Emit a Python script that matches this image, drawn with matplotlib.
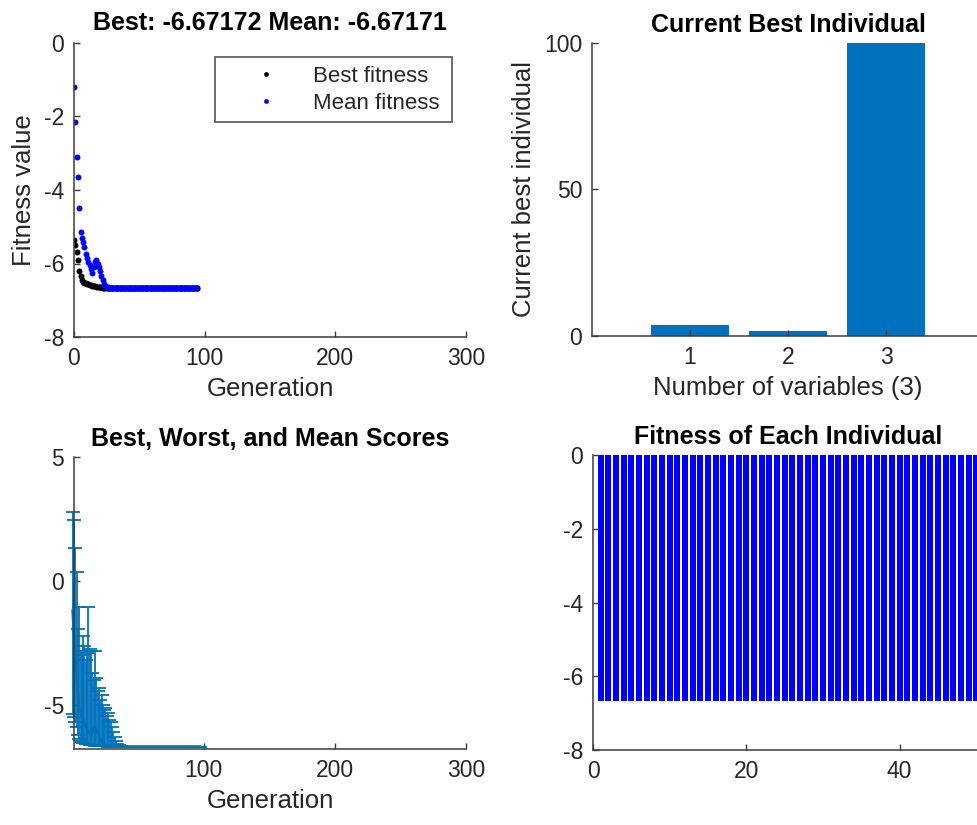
import matplotlib
matplotlib.use('Agg')
import matplotlib.pyplot as plt
import numpy as np

plt.rcParams['font.family'] = ['Liberation Sans', 'DejaVu Sans']
plt.rcParams['axes.unicode_minus'] = False

# ---------------- data ----------------
# Top-left: best / mean fitness per generation (0..94)
best_fitness = ([-5.36, -5.50, -5.70, -5.90, -6.20, -6.35, -6.45, -6.50, -6.52, -6.54,
                 -6.56, -6.57, -6.58, -6.59, -6.60, -6.61, -6.62, -6.63, -6.635, -6.64,
                 -6.645, -6.65, -6.655, -6.66, -6.663, -6.666, -6.668, -6.670, -6.671]
                + [-6.67172] * 66)
mean_fitness = ([-1.19, -2.16, -3.11, -3.64, -4.50, -5.15, -5.30, -5.41, -5.54, -5.75,
                 -5.85, -5.95, -6.05, -6.15, -6.25, -6.10, -5.95, -5.90, -6.00, -6.10,
                 -6.20, -6.35, -6.45, -6.55, -6.60, -6.63, -6.65, -6.66, -6.667, -6.670,
                 -6.671] + [-6.67171] * 64)
gen_tl = list(range(len(best_fitness)))

# Top-right: current best individual
var_index = [1, 2, 3]
best_individual = [3.75, 1.85, 100.0]

# Bottom-left: best / worst / mean scores per generation (0..97)
range_best = ([-5.36, -5.50, -5.70, -5.90, -6.20, -6.35, -6.45, -6.50, -6.52, -6.54,
               -6.56, -6.57, -6.58, -6.59, -6.60, -6.61, -6.62, -6.63, -6.635, -6.64,
               -6.645, -6.65, -6.655, -6.66, -6.663, -6.666, -6.668, -6.670, -6.671]
              + [-6.67172] * 69)
range_mean = ([-1.19, -2.16, -3.11, -3.64, -4.50, -5.15, -5.30, -5.41, -5.54, -5.75,
               -5.85, -5.95, -6.05, -6.15, -6.25, -6.10, -5.95, -5.90, -6.00, -6.10,
               -6.20, -6.35, -6.45, -6.55, -6.60, -6.63, -6.65, -6.66, -6.667, -6.670,
               -6.671] + [-6.67171] * 67)
range_worst = ([2.80, 2.45, 1.35, 0.35, -1.95, -1.05, -2.80, -3.00, -2.20, -2.60,
                -3.20, -2.90, -1.05, -2.75, -2.80, -3.70, -4.00, -2.80, -3.90, -4.45,
                -4.30, -4.80, -4.60, -5.00, -5.20, -5.10, -5.45, -5.30, -5.60, -5.70,
                -5.90, -6.10, -6.30, -6.45, -6.55, -6.62, -6.65, -6.66, -6.67]
               + [-6.67171] * 59)
gen_bl = list(range(len(range_mean)))

# Bottom-right: fitness of each individual (population 50)
individual = list(range(1, 51))
individual_fitness = [-6.67172] * 50

# ---------------- style ----------------
AX_COL = '#3c3c3c'
TXT_COL = '#262626'
TICK_FS = 16.5
LAB_FS = 18.5
TIT_FS = 18
W, H = 977, 825

fig = plt.figure(figsize=(W / 100, H / 100), dpi=100)


def make_ax(l, t, r, b):
    ax = fig.add_axes([l / W, 1 - b / H, (r - l) / W, (b - t) / H])
    for s in ['top', 'right']:
        ax.spines[s].set_visible(False)
    for s in ['left', 'bottom']:
        ax.spines[s].set_color(AX_COL)
        ax.spines[s].set_linewidth(1.1)
    ax.tick_params(direction='in', length=4, width=1.0, color=AX_COL,
                   labelsize=TICK_FS, labelcolor=TXT_COL, pad=7)
    return ax


# Top-left
ax1 = make_ax(74, 43, 466, 337)
ax1.plot(gen_tl, best_fitness, linestyle='none', marker='o', markersize=4.3,
         color='black', markeredgewidth=0, label='Best fitness')
ax1.plot(gen_tl, mean_fitness, linestyle='none', marker='o', markersize=4.3,
         color='#0000FF', markeredgewidth=0, label='Mean fitness')
ax1.set_xlim(0, 300)
ax1.set_ylim(-8, 0)
ax1.set_xticks([0, 100, 200, 300])
ax1.set_yticks([-8, -6, -4, -2, 0])
ax1.set_xlabel('Generation', fontsize=LAB_FS, color=TXT_COL, labelpad=5)
ax1.set_ylabel('Fitness value', fontsize=LAB_FS, color=TXT_COL, labelpad=6)
ax1.set_title('Best: -6.67172 Mean: -6.67171', fontsize=TIT_FS,
              fontweight='bold', pad=9)
leg = ax1.legend(loc='upper left', bbox_to_anchor=(0.3597, 0.0, 0.6046, 0.952),
                 mode='expand', borderaxespad=0, fontsize=16, frameon=True,
                 fancybox=False, borderpad=0.4, handlelength=3.8,
                 handletextpad=0.2, labelspacing=0.25, markerscale=0.8)
leg.get_frame().set_edgecolor(AX_COL)
leg.get_frame().set_linewidth(1.3)
for t in leg.get_texts():
    t.set_color(TXT_COL)

# Top-right
ax2 = make_ax(592, 43, 984, 336)
ax2.bar(var_index, best_individual, width=0.8, color='#0072BD', edgecolor='none')
ax2.set_xlim(0, 4)
ax2.set_ylim(0, 100)
ax2.set_xticks([1, 2, 3])
ax2.set_yticks([0, 50, 100])
ax2.set_xlabel('Number of variables (3)', fontsize=LAB_FS, color=TXT_COL, labelpad=5)
ax2.set_ylabel('Current best individual', fontsize=LAB_FS, color=TXT_COL, labelpad=6)
ax2.set_title('Current Best Individual', fontsize=TIT_FS, fontweight='bold', pad=8)

# Bottom-left
ax3 = make_ax(74, 457, 466, 749)
m = np.array(range_mean)
lo = np.clip(m - np.array(range_best), 0, None)
hi = np.clip(np.array(range_worst) - m, 0, None)
eb = ax3.errorbar(gen_bl, range_mean, yerr=[lo, hi], color='#0072BD',
                  elinewidth=1.3, linewidth=2.0, capsize=5, capthick=1.3)
for art in list(eb.lines[1]) + list(eb.lines[2]) + [eb.lines[0]]:
    art.set_clip_on(False)
ax3.set_xlim(1, 300)
ax3.set_ylim(-6.77, 5)
ax3.set_xticks([100, 200, 300])
ax3.set_yticks([-5, 0, 5])
ax3.set_xlabel('Generation', fontsize=LAB_FS, color=TXT_COL, labelpad=5)
ax3.set_title('Best, Worst, and Mean Scores', fontsize=TIT_FS, fontweight='bold', pad=8)

# Bottom-right
ax4 = make_ax(593, 455, 984, 750)
ax4.bar(individual, individual_fitness, width=0.82, color='#0000FF', edgecolor='none')
ax4.set_xlim(0, 51)
ax4.set_ylim(-8, 0)
ax4.set_xticks([0, 20, 40])
ax4.set_yticks([-8, -6, -4, -2, 0])
ax4.set_title('Fitness of Each Individual', fontsize=TIT_FS, fontweight='bold', pad=8)

fig.savefig('out.png', dpi=100)
